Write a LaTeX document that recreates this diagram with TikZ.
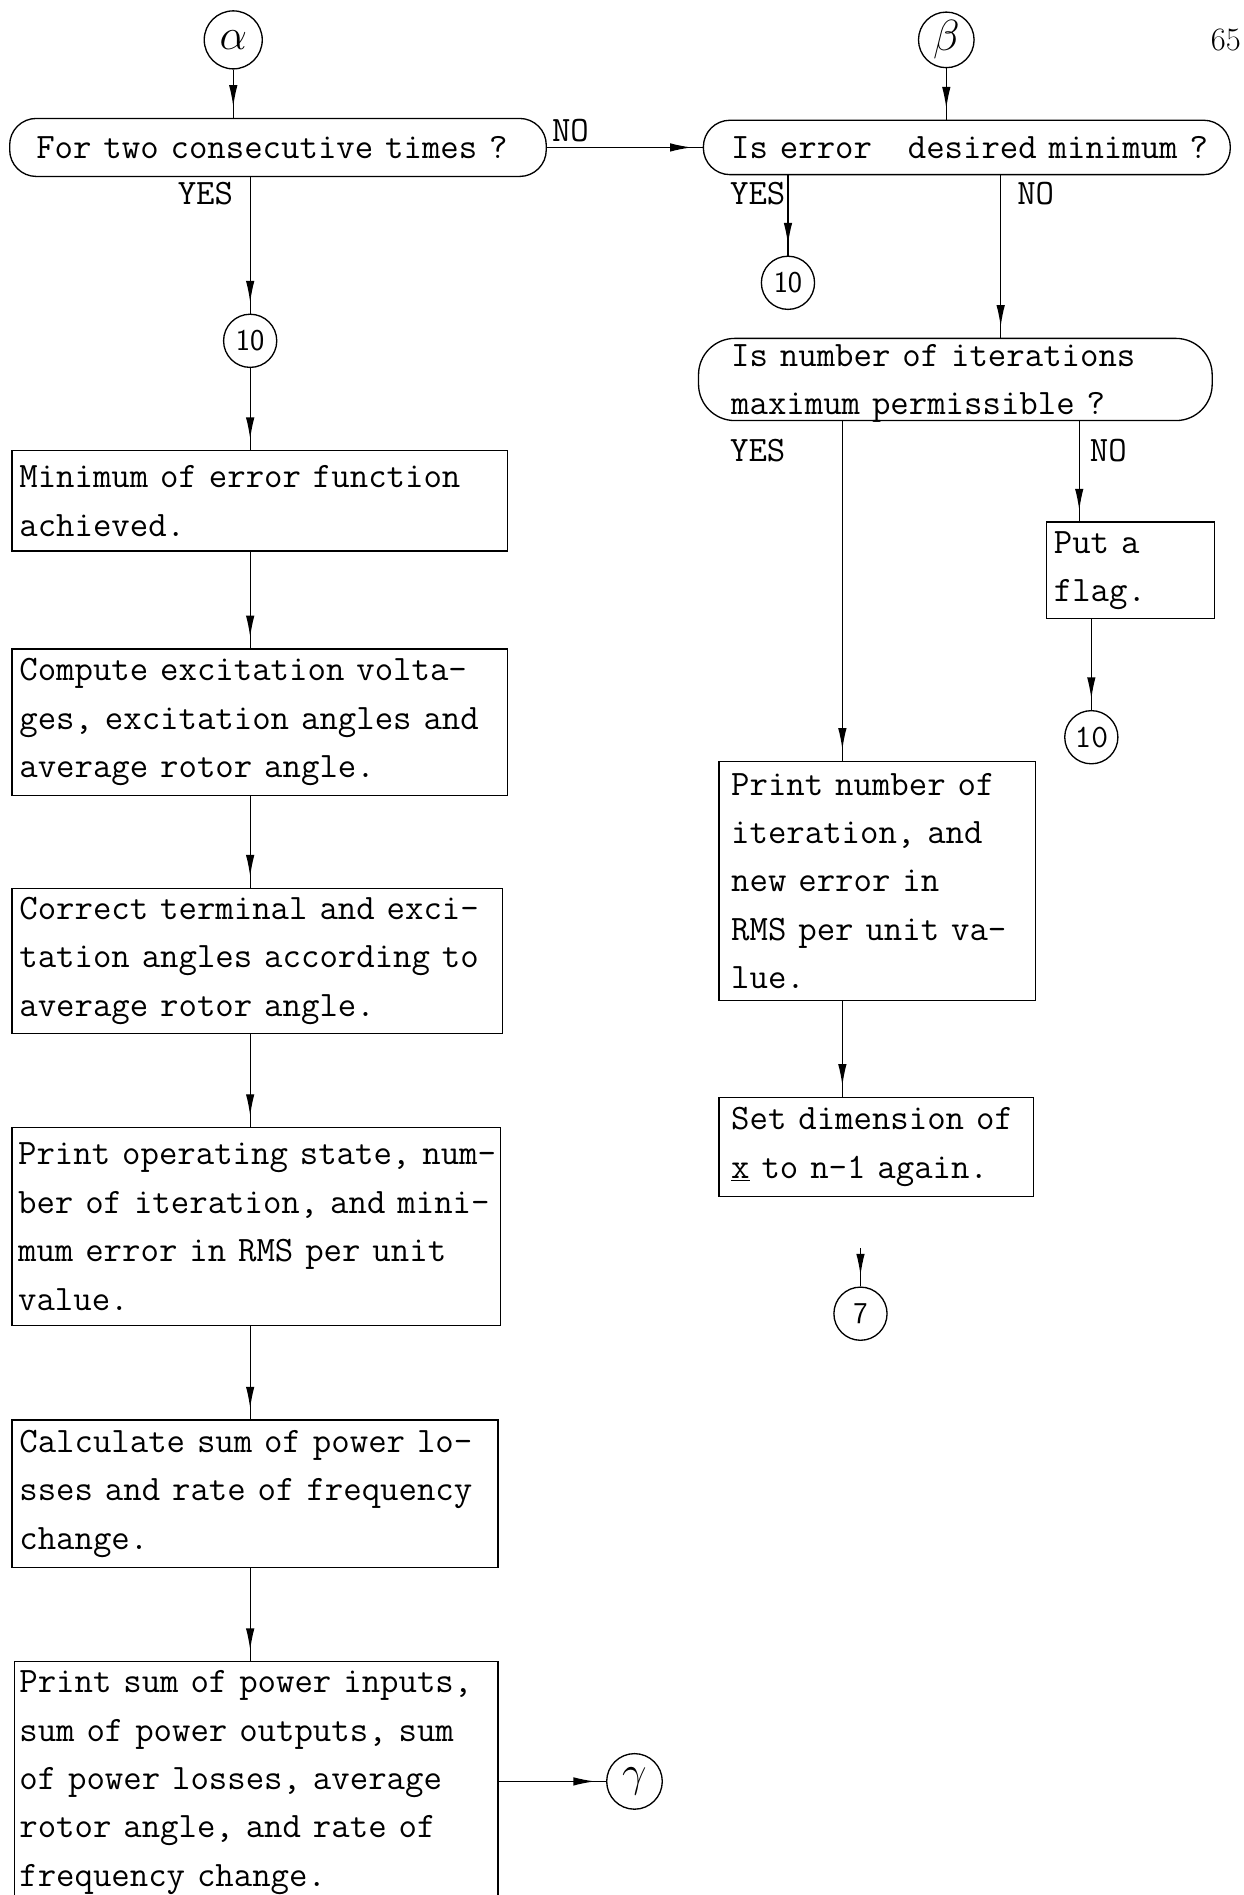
\documentclass[tikz,border=0pt]{standalone}
\usepackage{graphicx}
\usetikzlibrary{arrows.meta,decorations.markings,calc}
\begin{document}
\begin{tikzpicture}[x=1pt,y=-1pt,
  every node/.style={font=\ttfamily\fontsize{29.6}{40}\selectfont},
  procbox/.style={draw, rectangle, line width=1.1pt, inner ysep=0pt, align=left},
  decbox/.style={draw, rectangle, line width=1.1pt, inner ysep=0pt, align=left},
  conn/.style={draw, circle, line width=1.1pt, inner sep=0pt, minimum size=44pt},
  lbl/.style={inner sep=0pt},
  flow/.style={line width=1.1pt, postaction={decorate},
    decoration={markings, mark=at position -9pt with {\arrow{Latex[length=18pt,width=7pt]}}}}
]
\useasboundingbox (0,0) rectangle (1029,1568);

% left column
\node[conn, minimum size=48pt] (alpha) at (193,33) {\scalebox{1.45}{\(\alpha\)}};
\node[decbox, rounded corners=22pt, minimum width=444pt, minimum height=48pt, inner xsep=22pt, text width=400pt] (d1) at (230,122) {\mbox{For two consecutive times ?}};
\node[conn, font=\sffamily\fontsize{25}{28}\selectfont] (c10a) at (207,282) {10};
\node[procbox, minimum width=410pt, minimum height=83pt, inner xsep=6pt, text width=398pt] (b1) at (215,414.5)
  {\mbox{Minimum of error function}\\\mbox{achieved.}};
\node[procbox, minimum width=410pt, minimum height=121pt, inner xsep=6pt, text width=398pt] (b2) at (215,597.5)
  {\mbox{Compute excitation volta-}\\\mbox{ges, excitation angles and}\\\mbox{average rotor angle.}};
\node[procbox, minimum width=406pt, minimum height=120pt, inner xsep=6pt, text width=394pt] (b3) at (213,795)
  {\mbox{Correct terminal and exci-}\\\mbox{tation angles according to}\\\mbox{average rotor angle.}};
\node[procbox, minimum width=404pt, minimum height=164pt, inner xsep=5pt, text width=394pt] (b4) at (212,1015)
  {\mbox{Print operating state, num-}\\\mbox{ber of iteration, and mini-}\\\mbox{mum error in RMS per unit}\\\mbox{value.}};
\node[procbox, minimum width=402pt, minimum height=122pt, inner xsep=6pt, text width=390pt] (b5) at (211,1236)
  {\mbox{Calculate sum of power lo-}\\\mbox{sses and rate of frequency}\\\mbox{change.}};
\node[procbox, minimum width=400pt, minimum height=200pt, inner xsep=4pt, text width=392pt] (b6) at (212,1475)
  {\mbox{Print sum of power inputs,}\\\mbox{sum of power outputs, sum}\\\mbox{of power losses, average}\\\mbox{rotor angle, and rate of}\\\mbox{frequency change.}};
\node[conn, minimum size=46pt] (gamma) at (525,1474) {\scalebox{1.45}{\(\gamma\)}};

% right column
\node[conn, minimum size=46pt] (beta) at (783,33) {\scalebox{1.45}{\(\beta\)}};
\node[decbox, rounded corners=22pt, minimum width=436pt, minimum height=45pt, inner xsep=23pt, text width=390pt] (d2) at (800,122)
  {\mbox{Is error\ \ \ desired minimum ?}};
\node[conn, font=\sffamily\fontsize{25}{28}\selectfont] (c10b) at (652,234) {10};
\node[decbox, rounded corners=30pt, minimum width=425pt, minimum height=68pt, inner xsep=27pt, text width=371pt] (d3) at (790.5,314)
  {\mbox{Is number of iterations}\\\raisebox{0pt}[\height][0pt]{maximum permissible ?}};
\node[procbox, minimum width=139pt, minimum height=80pt, inner xsep=6pt, text width=127pt] (flag) at (935.5,472)
  {\mbox{Put a}\\\mbox{flag.}};
\node[conn, font=\ttfamily\fontsize{27}{28}\selectfont] (c10c) at (903,610) {10};
\node[procbox, minimum width=262pt, minimum height=198pt, inner xsep=10pt, text width=242pt] (b7) at (726,729)
  {\mbox{Print number of}\\\mbox{iteration, and}\\\mbox{new error in}\\\mbox{RMS per unit va-}\\\mbox{lue.}};
\node[procbox, minimum width=260pt, minimum height=82pt, inner xsep=10pt, text width=240pt] (b8) at (725,949)
  {\mbox{Set dimension of}\\\mbox{\underline{x} to n-1 again.}};
\node[conn, font=\sffamily\fontsize{25}{28}\selectfont] (c7) at (712,1087) {7};

\node[anchor=east, inner sep=0pt, font=\rmfamily\fontsize{27}{30}\selectfont] (page) at (1027,33) {65};

% labels
\node[lbl] (no1) at (472,108) {NO};
\node[lbl] (yes1) at (170,160) {YES};
\node[lbl] (yes2) at (627,160) {YES};
\node[lbl] (no2) at (857,160) {NO};
\node[lbl] (yes3) at (627,373) {YES};
\node[lbl] (no3) at (917,373) {NO};

% helper coordinates
\coordinate (xno2) at (828,0);
\coordinate (xyes3) at (697,0);
\coordinate (xno3) at (893,0);
\coordinate (s7) at (712,1033);

% connectors left
\draw[flow] (alpha) -- (alpha |- d1.north);
\draw[flow] (d1.south -| c10a) -- (c10a);
\draw[flow] (c10a) -- (b1.north -| c10a);
\draw[flow] (b1.south -| c10a) -- (b2.north -| c10a);
\draw[flow] (b2.south -| c10a) -- (b3.north -| c10a);
\draw[flow] (b3.south -| c10a) -- (b4.north -| c10a);
\draw[flow] (b4.south -| c10a) -- (b5.north -| c10a);
\draw[flow] (b5.south -| c10a) -- (b6.north -| c10a);
\draw[flow] (b6.east |- gamma) -- (gamma);
\draw[flow] (d1.east) -- (d2.west);

% connectors right
\draw[flow] (beta) -- (beta |- d2.north);
\draw[flow] (d2.south -| c10b) -- (c10b);
\draw[flow] (d2.south -| xno2) -- (d3.north -| xno2);
\draw[flow] (d3.south -| xyes3) -- (b7.north -| xyes3);
\draw[flow] (d3.south -| xno3) -- (flag.north -| xno3);
\draw[flow] (flag.south -| c10c) -- (c10c);
\draw[flow] (b7.south -| xyes3) -- (b8.north -| xyes3);
\draw[flow] (s7) -- (c7);
\end{tikzpicture}
\end{document}
